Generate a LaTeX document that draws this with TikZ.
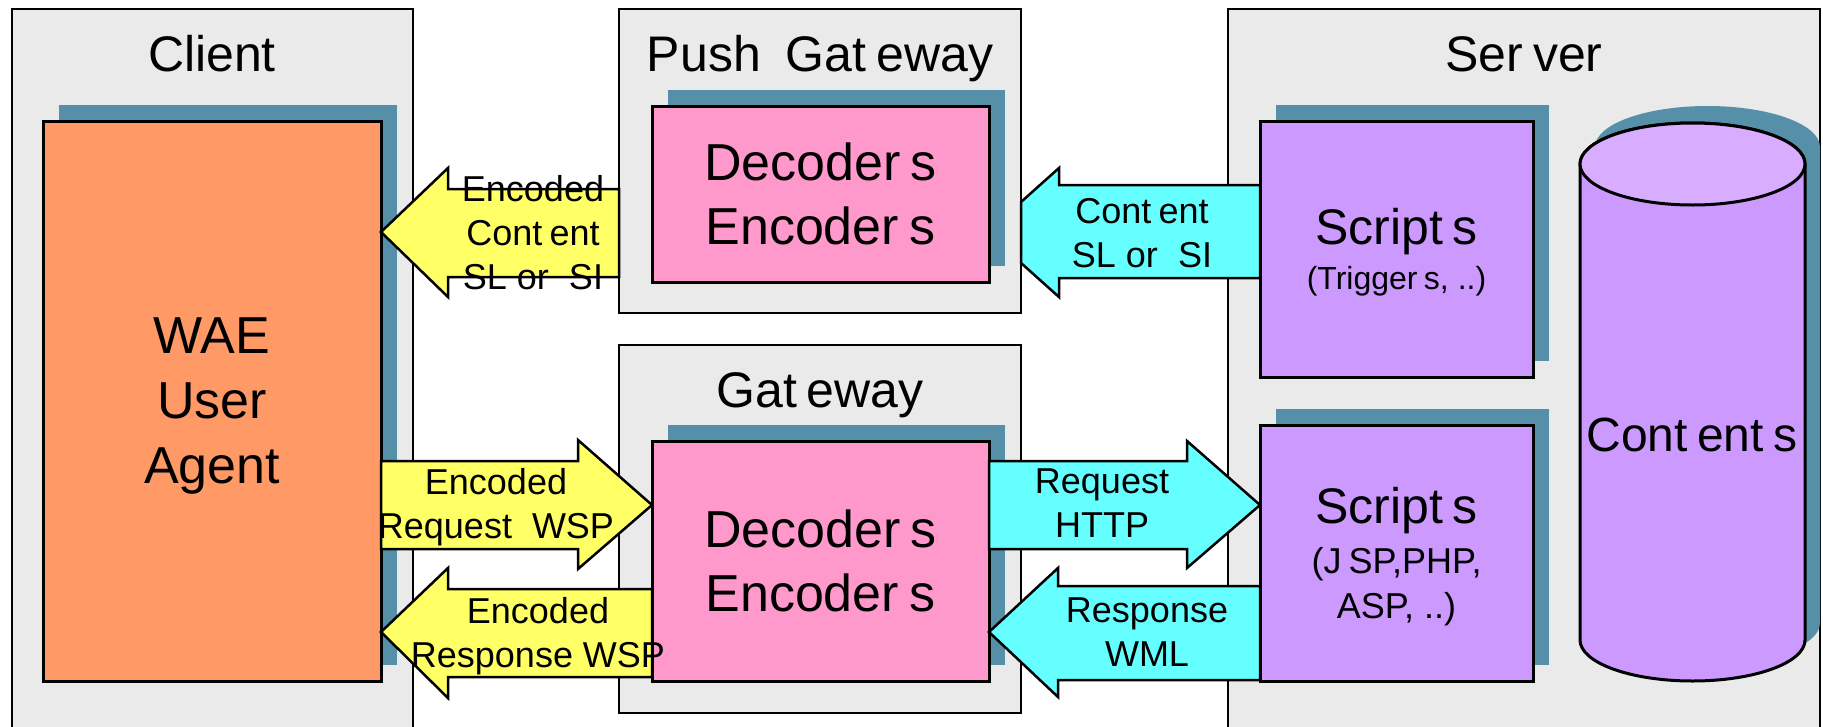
\documentclass[tikz,border=0pt]{standalone}
\usepackage{fontspec}
\setmainfont{Liberation Sans}
\usetikzlibrary{shadows}

\definecolor{boxgray}{RGB}{234,234,234}
\definecolor{shadowblue}{RGB}{86,143,168}
\definecolor{waeorange}{RGB}{255,153,102}
\definecolor{codecpink}{RGB}{255,153,204}
\definecolor{scriptlilac}{RGB}{204,153,255}
\definecolor{toplilac}{RGB}{216,172,255}
\definecolor{arrowyellow}{RGB}{255,255,102}
\definecolor{arrowcyan}{RGB}{102,255,255}

% small gap as the letters are set in the picture
\newcommand{\gp}{\hspace{0.2em}}

\begin{document}
\begin{tikzpicture}
      [ x=1pt, y=-1pt
        , every node/.style={inner sep=0pt, outer sep=0pt}
        , frame/.style={rectangle, draw, line width=2.5pt, fill=boxgray}
        , block/.style={rectangle, draw, line width=3pt, align=center,
            general shadow={fill=shadowblue, shadow xshift=16pt, shadow yshift=16pt}}
        , title/.style={anchor=base, font=\fontsize{50}{60}\selectfont}
        , big/.style={font=\fontsize{52}{64}\selectfont}
        , flow/.style={draw, line width=2.5pt, line join=miter}
        , flowtext/.style={align=center, font=\fontsize{36}{44}\selectfont}
      ]
      \useasboundingbox (0,0) rectangle (1823,726);

      % containers
      \node (client) [frame, minimum width=401pt, minimum height=751pt] at (212.5,384.5) {};
      \node (server) [frame, minimum width=592pt, minimum height=751pt] at (1524,384.5) {};
      \node (clientlbl) [title] at (212,71) {Client};
      \node (serverlbl) [title] at (1524,71) {Ser\gp ver};

      \node (wae) [block, big, fill=waeorange, text depth=0pt,
        minimum width=338pt, minimum height=560pt, font=\fontsize{52}{65}\selectfont]
        at (212,401) {WAE\\User\\Agent};
      \node (scripts1) [block, fill=scriptlilac, text depth=0pt,
        minimum width=273pt, minimum height=256pt, font=\fontsize{32}{45}\selectfont]
        at (1396.5,249) {{\fontsize{50}{60}\selectfont Script\gp s}\\(Trigger\gp s, ..)};
      \node (scripts2) [block, fill=scriptlilac, text depth=0pt,
        minimum width=273pt, minimum height=256pt, font=\fontsize{36}{45}\selectfont]
        at (1396.5,553) {{\fontsize{50}{60}\selectfont Script\gp s}\\[5pt](J\gp SP,PHP,\\ASP, ..)};

      % contents store
      \fill[shadowblue] (1595,147) -- (1595,623) arc[start angle=180, end angle=360, x radius=112.5pt, y radius=41pt]
        -- (1820,147) arc[start angle=0, end angle=180, x radius=112.5pt, y radius=41pt] -- cycle;
      \draw[line width=3pt, fill=scriptlilac] (1580,164) -- (1580,640)
        arc[start angle=180, end angle=360, x radius=112.5pt, y radius=41pt]
        -- (1805,164) arc[start angle=0, end angle=180, x radius=112.5pt, y radius=41pt] -- cycle;
      \draw[line width=3pt, fill=toplilac] (1692.5,164) ellipse[x radius=112.5pt, y radius=41pt];
      \node (contents) [title, font=\fontsize{48}{58}\selectfont] at (1692,451) {Cont\gp ent\gp s};

      % gateways
      \node (push) [frame, minimum width=402pt, minimum height=304pt] at (820,161) {};
      \node (gateway) [frame, minimum width=402pt, minimum height=368pt] at (820,529) {};
      \node (pushlbl) [title] at (820,71) {Push\enspace Gat\gp eway};
      \node (gatewaylbl) [title] at (820,407) {Gat\gp eway};

      \node (pushcodec) [block, big, fill=codecpink, minimum width=337pt, minimum height=176pt]
        at (820.5,194) {Decoder\gp s\\Encoder\gp s};
      \node (codec) [block, big, fill=codecpink, minimum width=337pt, minimum height=240pt]
        at (820.5,561) {Decoder\gp s\\Encoder\gp s};

      % push arrows
      \draw[flow, fill=arrowyellow] (push.west |- 0,189) -- (448,189) -- (448,168) -- (wae.east |- 0,232)
        -- (448,297) -- (448,277) -- (push.west |- 0,277) -- cycle;
      \draw[flow, fill=arrowcyan] (scripts1.west |- 0,185) -- (1059,185) -- (1059,168) -- (push.east |- 0,202)
        -- (push.east |- 0,263) -- (1059,297) -- (1059,278) -- (scripts1.west |- 0,278) -- cycle;

      % request / response arrows
      \draw[flow, fill=arrowyellow] (wae.east |- 0,461) -- (578,461) -- (578,440) -- (codec.west |- 0,505)
        -- (578,569) -- (578,549) -- (wae.east |- 0,549) -- cycle;
      \draw[flow, fill=arrowyellow] (codec.west |- 0,589) -- (448,589) -- (448,568) -- (wae.east |- 0,632)
        -- (448,698) -- (448,677) -- (codec.west |- 0,677) -- cycle;
      \draw[flow, fill=arrowcyan] (codec.east |- 0,461) -- (1187,461) -- (1187,441) -- (scripts2.west |- 0,505)
        -- (1187,568) -- (1187,549) -- (codec.east |- 0,549) -- cycle;
      \draw[flow, fill=arrowcyan] (scripts2.west |- 0,586) -- (1058,586) -- (1058,568) -- (codec.east |- 0,632)
        -- (1058,697) -- (1058,680) -- (scripts2.west |- 0,680) -- cycle;

      \node (pushenc) [flowtext] at (533,233) {Encoded\\Cont\gp ent\\SL or\ \ SI};
      \node (pushcont) [flowtext] at (1142,233) {Cont\gp ent\\SL or\ \ SI};
      \node (wspreq) [flowtext] at (496,507) {Encoded\\Request\ \ WSP};
      \node (wspresp) [flowtext] at (538,636) {Encoded\\Response WSP};
      \node (httpreq) [flowtext] at (1102,503.5) {Request\\HTTP};
      \node (wmlresp) [flowtext] at (1147,632.5) {Response\\WML};

    \end{tikzpicture}
\end{document}
